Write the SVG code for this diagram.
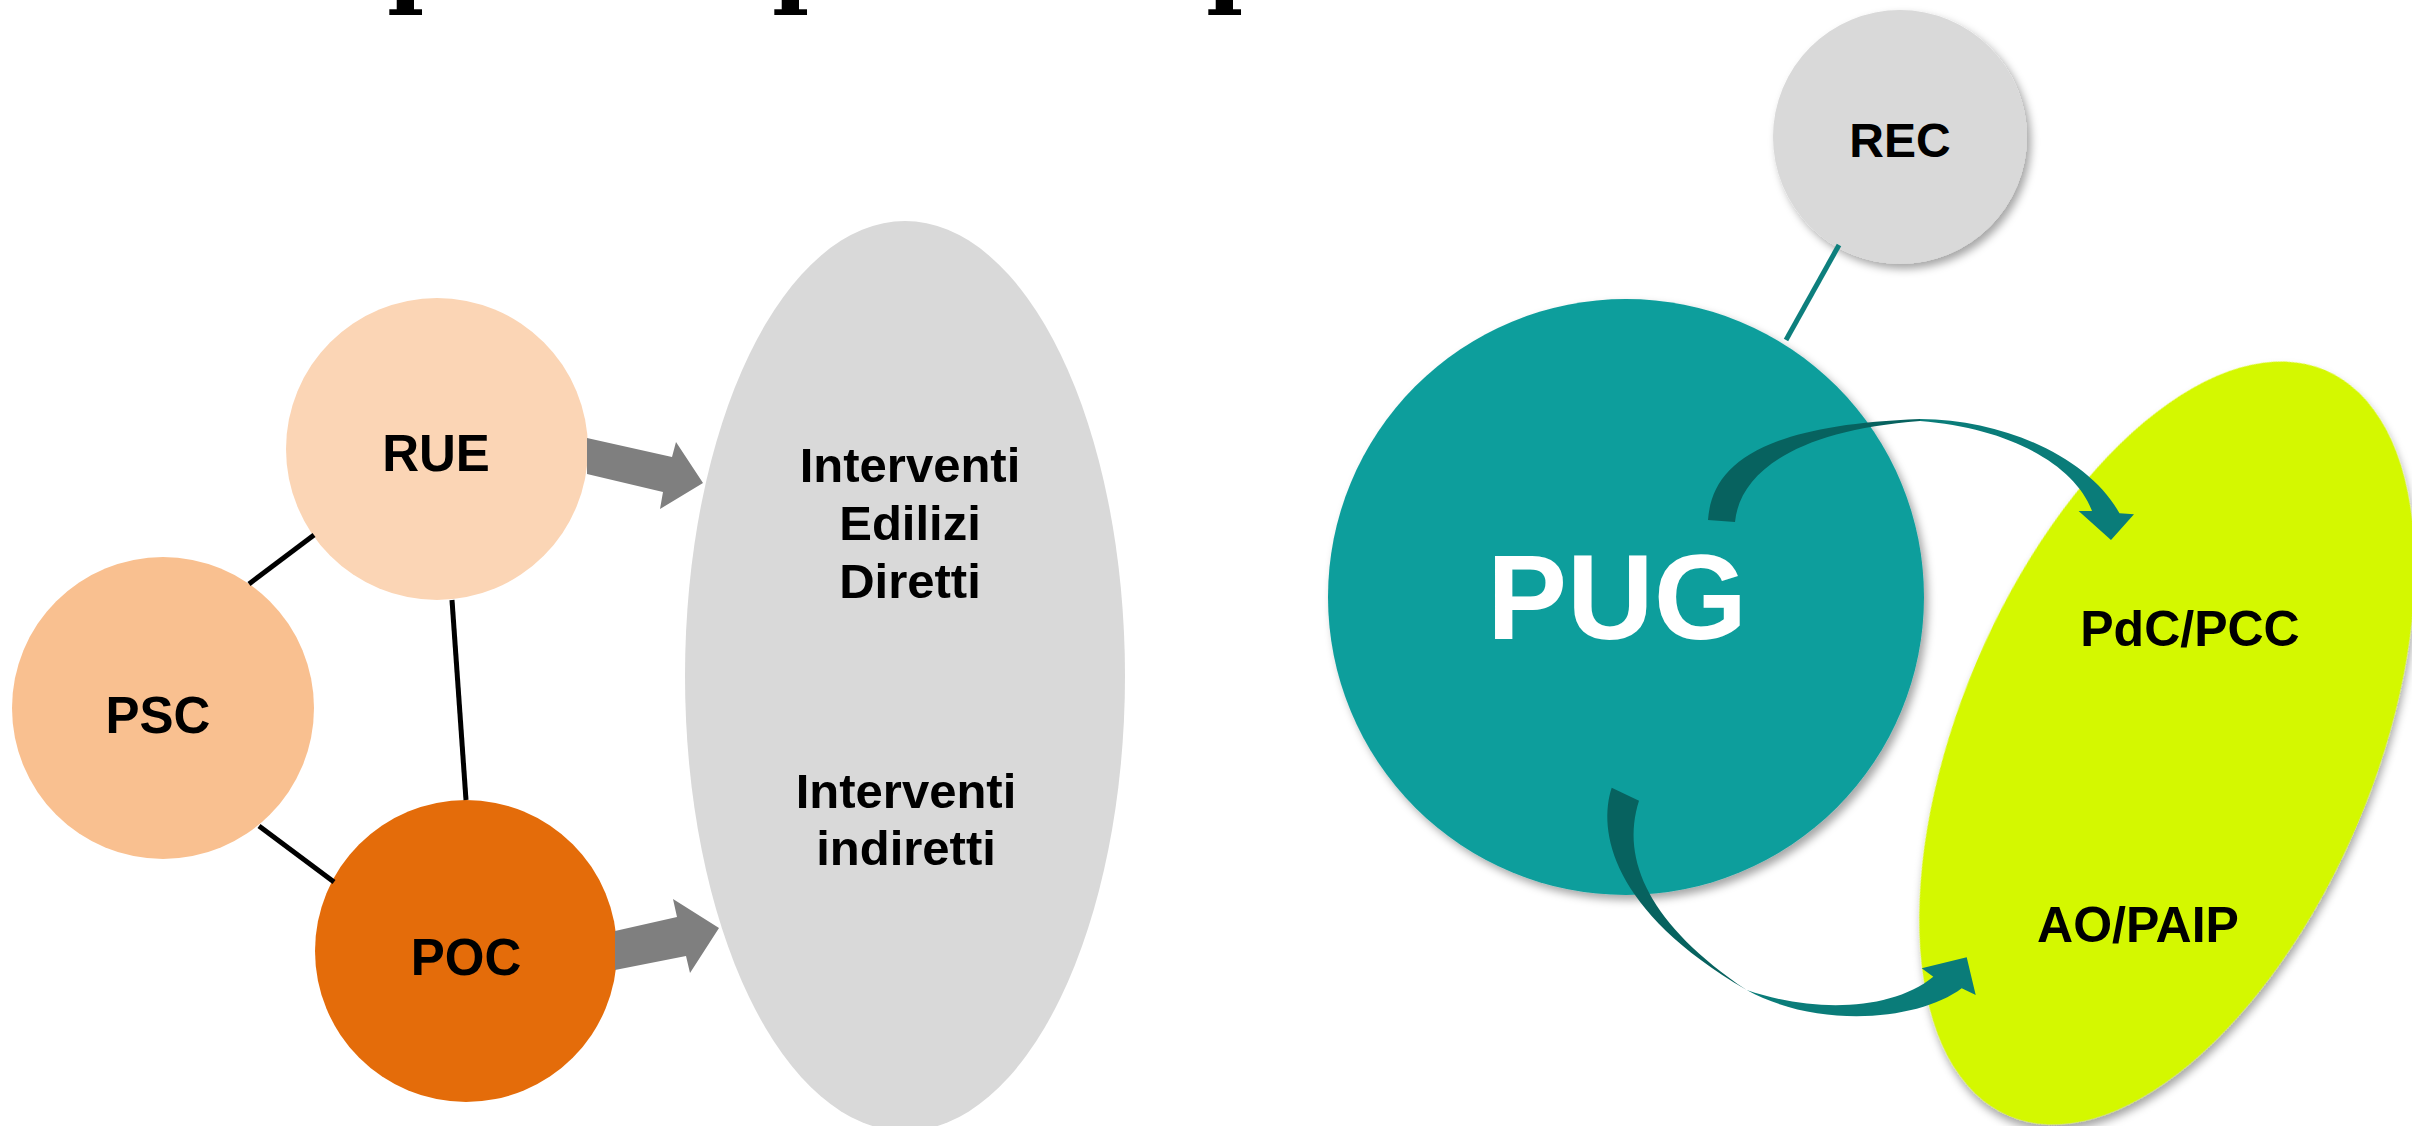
<svg xmlns="http://www.w3.org/2000/svg" width="2412" height="1126" viewBox="0 0 2412 1126">
  <defs>
    <filter id="softShadow" x="-20%" y="-20%" width="140%" height="140%">
      <feDropShadow dx="4" dy="5" stdDeviation="4" flood-color="#000" flood-opacity="0.35"/>
    </filter>
    <style>
      .lbl { font-family: "Liberation Sans", Arial, Helvetica, sans-serif; font-weight: bold; fill: #000; text-anchor: middle; }
      .title { font-family: "DejaVu Serif", "Liberation Serif", serif; font-weight: bold; font-size: 100px; fill: #000; }
      .link { stroke: #000; stroke-width: 5; fill: none; }
      .thick { fill: #7F7F7F; }
      .curveBack { fill: #07625F; }
      .curveFront { fill: #0A7C79; }
    </style>
  </defs>

  <rect width="2412" height="1126" fill="#fff"/>

  <!-- heading line, mostly above the top edge -->
  <g id="heading">
    <text class="title" x="387" y="-6">p</text>
    <text class="title" x="772" y="-6">p</text>
    <text class="title" x="1206" y="-6">p</text>
  </g>

  <!-- left scheme -->
  <g id="interventi">
    <ellipse cx="905" cy="676" rx="220" ry="455" fill="#D9D9D9"/>
    <text class="lbl" font-size="49" x="910" y="482">Interventi</text>
    <text class="lbl" font-size="49" x="910" y="540">Edilizi</text>
    <text class="lbl" font-size="49" x="910" y="598">Diretti</text>
    <text class="lbl" font-size="49" x="906" y="808">Interventi</text>
    <text class="lbl" font-size="49" x="906" y="865">indiretti</text>
  </g>
  <g id="rue">
    <circle cx="437" cy="449" r="151" fill="#FBD5B5"/>
    <text class="lbl" font-size="51" x="436" y="471">RUE</text>
  </g>
  <g id="psc">
    <circle cx="163" cy="708" r="151" fill="#F9C090"/>
    <text class="lbl" font-size="51" x="158" y="733">PSC</text>
  </g>
  <g id="poc">
    <circle cx="466" cy="951" r="151" fill="#E46C0A"/>
    <text class="lbl" font-size="51" x="466" y="975">POC</text>
  </g>

  <!-- right scheme -->
  <g id="attuazione">
    <ellipse cx="0" cy="0" rx="207" ry="405" fill="#D4F800" filter="url(#softShadow)" transform="translate(2167 743) rotate(23)"/>
    <text class="lbl" font-size="50" x="2190" y="646">PdC/PCC</text>
    <text class="lbl" font-size="50" x="2138" y="942">AO/PAIP</text>
  </g>
  <g id="rec">
    <circle cx="1900" cy="137" r="127" fill="#D9D9D9" filter="url(#softShadow)"/>
    <text class="lbl" font-size="48" x="1900" y="157">REC</text>
  </g>
  <g id="pug">
    <circle cx="1626" cy="597" r="298" fill="#0F9E9C" filter="url(#softShadow)"/>
    <text class="lbl" font-size="120" x="1617" y="639" style="fill:#fff">PUG</text>
  </g>

  <g id="connectors">
    <!-- plain links between the left circles -->
    <line class="link" x1="314" y1="535" x2="249" y2="584"/>
    <line class="link" x1="452" y1="600" x2="466" y2="800"/>
    <line class="link" x1="259" y1="826" x2="334" y2="882"/>
    <!-- block arrows into the grey ellipse -->
    <polygon class="thick" points="587,438 672,457 676,442 703,483 660,509 663,492 587,474"/>
    <polygon class="thick" points="615,931 677,917 673,899 719,928 690,973 686,956 615,970"/>
    <!-- REC to PUG -->
    <line x1="1839" y1="245" x2="1786" y2="340" stroke="#0D7F7D" stroke-width="5"/>
    <!-- curved arrow PUG to PdC/PCC -->
    <path class="curveBack" d="M1708,520 C1712,465 1760,425 1920,419 L1920,421 C1800,430 1740,470 1735,522 Z"/>
    <path class="curveFront" d="M1920,419 C2010,420 2090,460 2119.5,513.3 L2134,514.3 L2111,540 L2078.6,511 L2092,511 C2075,465 2010,428 1920,421 Z"/>
    <!-- curved arrow PUG to AO/PAIP -->
    <path class="curveBack" d="M1611.7,787.7 C1598,830 1610,910 1746.7,990 C1650,925 1620,860 1639,800.7 Z"/>
    <path class="curveFront" d="M1746.7,990 C1810,1012 1890,1012 1933.3,976.7 L1921.7,968.3 L1966.7,957.3 L1975.7,995 L1961.7,988.3 C1920,1020 1820,1030 1746.7,990 Z"/>
  </g>
</svg>
